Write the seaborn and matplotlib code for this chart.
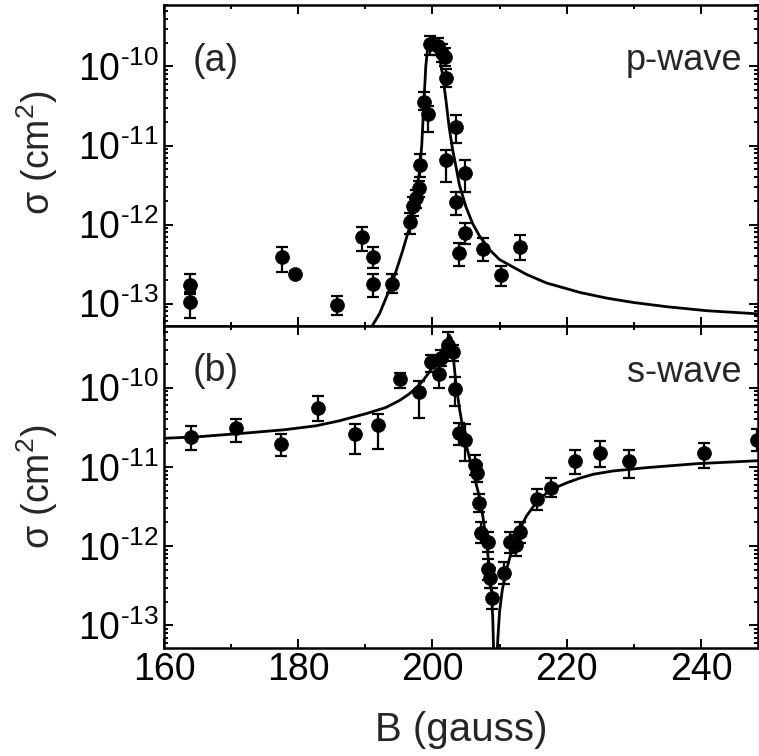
import numpy as np
import pandas as pd
import matplotlib
matplotlib.use('Agg')
import matplotlib.pyplot as plt
import seaborn as sns
from matplotlib.ticker import LogLocator, MultipleLocator, NullFormatter

# ---------------- data ----------------
# (a) p-wave measurements: B (gauss), sigma (cm^2), lower / upper error-bar ends
p_B = [163.9, 163.9, 177.6, 179.5, 185.8, 189.45, 191.2, 191.2, 193.9, 196.6,
       197.1, 197.6, 197.95, 198.1, 198.8, 199.3, 199.6, 200.8, 201.4, 201.8,
       202.0, 203.5, 202.0, 204.9, 203.5, 204.8, 204.0, 207.5, 210.2, 213.0]
p_sig = [1.70e-13, 1.05e-13, 3.89e-13, 2.40e-13, 9.5e-14, 6.9e-13, 3.9e-13, 1.78e-13, 1.78e-13, 1.07e-12,
         1.70e-12, 2.14e-12, 2.9e-12, 5.75e-12, 3.55e-11, 2.5e-11, 1.9e-10, 1.8e-10, 1.5e-10, 1.3e-10,
         7.2e-11, 1.74e-11, 6.6e-12, 4.5e-12, 1.95e-12, 7.8e-13, 4.3e-13, 4.9e-13, 2.3e-13, 5.25e-13]
p_lo = [1.41e-13, 6.6e-14, 2.51e-13, 2.2e-13, 7.1e-14, 4.6e-13, 2.8e-13, 1.2e-13, 1.35e-13, 7.6e-13,
        1.3e-12, 1.6e-12, 2.2e-12, 4.0e-12, 2.8e-11, 1.5e-11, 1.4e-10, 1.4e-10, 1.15e-10, 1.0e-10,
        5.5e-11, 1.07e-11, 3.5e-12, 2.6e-12, 1.32e-12, 5.6e-13, 2.95e-13, 3.5e-13, 1.66e-13, 3.55e-13]
p_hi = [2.34e-13, 1.32e-13, 5.25e-13, 2.6e-13, 1.26e-13, 9.3e-13, 5.25e-13, 2.4e-13, 2.4e-13, 1.41e-12,
        2.2e-12, 2.7e-12, 3.6e-12, 7.9e-12, 4.7e-11, 3.2e-11, 2.4e-10, 2.3e-10, 1.9e-10, 1.7e-10,
        9.3e-11, 2.45e-11, 8.9e-12, 6.6e-12, 2.6e-12, 1.05e-12, 5.9e-13, 6.8e-13, 3.0e-13, 7.4e-13]

# (a) p-wave fit curve
pfit_B = [190.3, 191.0, 192.1, 194.0, 195.5, 196.6, 197.0, 197.6, 198.1, 198.4,
          198.7, 199.0, 199.3, 199.6, 200.0, 200.5, 201.0, 201.5, 202.0, 202.5,
          203.0, 203.5, 204.0, 205.0, 206.0, 207.0, 208.5, 210.0, 212.0, 214.0,
          217.0, 222.0, 226.0, 230.0, 235.0, 241.0, 248.6]
pfit_sig = [4.0e-14, 5.2e-14, 7.4e-14, 1.82e-13, 4.5e-13, 9.3e-13, 1.41e-12, 2.5e-12, 5.0e-12, 1.0e-11,
            3.2e-11, 1.0e-10, 1.78e-10, 2.24e-10, 2.4e-10, 2.1e-10, 1.41e-10, 7.9e-11, 3.8e-11, 1.66e-11,
            8.9e-12, 5.4e-12, 3.2e-12, 1.66e-12, 1.02e-12, 7.2e-13, 4.8e-13, 3.6e-13, 2.9e-13, 2.34e-13,
            1.82e-13, 1.38e-13, 1.17e-13, 1.03e-13, 9.1e-14, 8.1e-14, 7.4e-14]

# (b) s-wave measurements
s_B = [164.0, 170.7, 177.5, 183.0, 188.5, 191.9, 195.2, 198.0, 199.8, 201.0,
       201.3, 202.3, 203.0, 203.4, 204.0, 204.8, 206.3, 206.6, 206.9, 207.3,
       208.3, 208.3, 208.6, 208.8, 210.6, 211.5, 212.5, 213.0, 215.6, 217.6,
       221.2, 224.9, 229.3, 240.5, 248.3]
s_sig = [2.4e-11, 3.1e-11, 1.95e-11, 5.6e-11, 2.57e-11, 3.4e-11, 1.29e-10, 8.7e-11, 2.1e-10, 1.5e-10,
         2.4e-10, 3.5e-10, 2.8e-10, 9.5e-11, 2.7e-11, 2.2e-11, 1.07e-11, 8.5e-12, 3.55e-12, 1.48e-12,
         1.12e-12, 5.1e-13, 4.0e-13, 2.24e-13, 4.6e-13, 1.12e-12, 1.05e-12, 1.5e-12, 3.9e-12, 5.5e-12,
         1.2e-11, 1.5e-11, 1.2e-11, 1.5e-11, 2.2e-11]
s_lo = [1.62e-11, 2.04e-11, 1.38e-11, 3.8e-11, 1.45e-11, 1.7e-11, 1.0e-10, 4.2e-11, 1.6e-10, 1.0e-10,
        1.9e-10, 2.8e-10, 2.2e-10, 5.9e-11, 1.9e-11, 1.2e-11, 8.0e-12, 6.5e-12, 2.7e-12, 1.1e-12,
        8.5e-13, 3.8e-13, 3.0e-13, 1.6e-13, 3.3e-13, 8.3e-13, 7.5e-13, 1.1e-12, 2.9e-12, 4.2e-12,
        8.1e-12, 1.0e-11, 7.2e-12, 9.8e-12, 1.6e-11]
s_hi = [3.24e-11, 4.0e-11, 2.57e-11, 7.8e-11, 3.47e-11, 4.7e-11, 1.55e-10, 1.23e-10, 2.6e-10, 1.9e-10,
        3.0e-10, 5.1e-10, 3.5e-10, 1.35e-10, 3.6e-11, 3.5e-11, 1.4e-11, 1.1e-11, 4.6e-12, 2.0e-12,
        1.5e-12, 6.8e-13, 5.3e-13, 3.0e-13, 6.3e-13, 1.5e-12, 1.4e-12, 2.0e-12, 5.2e-12, 7.2e-12,
        1.66e-11, 2.1e-11, 1.66e-11, 2.0e-11, 3.0e-11]

# (b) s-wave fit curve
sfit_B = [160.0, 165.0, 172.7, 178.0, 182.6, 186.0, 190.1, 193.0, 195.1, 196.5,
          197.6, 198.5, 199.3, 200.0, 201.0, 202.0, 202.5, 202.8, 203.0, 203.5,
          204.0, 204.8, 205.5, 206.3, 207.0, 207.5, 208.0, 208.5, 208.8, 209.0,
          209.15, 209.35, 209.55, 209.75, 210.0, 210.4, 211.0, 212.0, 213.0, 214.0,
          215.5, 217.0, 218.4, 220.0, 221.9, 224.0, 226.9, 231.9, 239.4, 248.6]
sfit_sig = [2.3e-11, 2.4e-11, 2.7e-11, 2.95e-11, 3.3e-11, 3.8e-11, 4.7e-11, 5.6e-11, 6.9e-11, 8.3e-11,
            1.0e-10, 1.2e-10, 1.48e-10, 1.82e-10, 2.5e-10, 3.8e-10, 4.6e-10, 4.2e-10, 3.0e-10, 1.12e-10,
            5.6e-11, 2.24e-11, 1.32e-11, 7.1e-12, 4.2e-12, 2.4e-12, 1.2e-12, 5.2e-13, 2.6e-13, 1.12e-13,
            3.2e-14, 1.0e-15, 3.2e-14, 7.1e-14, 1.5e-13, 2.8e-13, 5.0e-13, 1.0e-12, 1.62e-12, 2.4e-12,
            3.6e-12, 4.7e-12, 5.5e-12, 6.3e-12, 7.2e-12, 8.1e-12, 8.9e-12, 9.8e-12, 1.1e-11, 1.2e-11]

x_ticks = [160, 180, 200, 220, 240]
y_ticks = [1e-13, 1e-12, 1e-11, 1e-10]
y_ticklabels = [r'$10^{\text{-}13}$', r'$10^{\text{-}12}$', r'$10^{\text{-}11}$', r'$10^{\text{-}10}$']

# ---------------- style ----------------
sns.set_theme(style='ticks')
plt.rcParams['font.family'] = ['Liberation Sans', 'DejaVu Sans']
plt.rcParams['mathtext.fontset'] = 'custom'
plt.rcParams['mathtext.rm'] = 'Liberation Sans'
plt.rcParams['mathtext.it'] = 'Liberation Sans:italic'
plt.rcParams['mathtext.bf'] = 'Liberation Sans:bold'
plt.rcParams['mathtext.sf'] = 'Liberation Sans'
plt.rcParams['mathtext.default'] = 'regular'

FS = 27

fig = plt.figure(figsize=(7.59, 7.56), dpi=100)
L = 164 / 759
R = 758 / 759
ax1 = fig.add_axes([L, 1 - 326 / 756, R - L, (326 - 5) / 756])
ax2 = fig.add_axes([L, 1 - 648 / 756, R - L, (648 - 326) / 756], sharex=ax1)


def panel(ax, B, sig, lo, hi, fB, fsig):
    ax.set_yscale('log')
    sig = np.asarray(sig)
    yerr = [sig - np.asarray(lo), np.asarray(hi) - sig]
    ax.errorbar(B, sig, yerr=yerr, fmt='none', ecolor='black',
                elinewidth=1.6, capsize=4.5, capthick=1.6, zorder=2)
    sns.lineplot(data=pd.DataFrame({'B': fB, 'sigma': fsig}), x='B', y='sigma',
                 ax=ax, color='black', lw=2.0, sort=False, estimator=None, zorder=3)
    sns.scatterplot(data=pd.DataFrame({'B': B, 'sigma': sig}), x='B', y='sigma',
                    ax=ax, color='black', edgecolor='black', s=100, marker='o',
                    linewidth=0.5, zorder=4)
    ax.set_ylim(5.2e-14, 6.0e-10)
    ax.set_xlim(160, 248.5)
    ax.set_yticks(y_ticks)
    ax.set_yticklabels(y_ticklabels)
    ax.yaxis.set_minor_locator(LogLocator(base=10, subs=np.arange(2, 10), numticks=20))
    ax.yaxis.set_minor_formatter(NullFormatter())
    ax.set_xticks(x_ticks)
    ax.xaxis.set_minor_locator(MultipleLocator(10))
    ax.tick_params(which='both', direction='in', top=True, right=True,
                   width=1.4, color='black', labelsize=FS, labelcolor='black')
    ax.tick_params(which='major', length=6.5)
    ax.tick_params(which='minor', length=3.2)
    ax.tick_params(axis='y', pad=4)
    ax.tick_params(axis='x', pad=3)
    for s in ax.spines.values():
        s.set_linewidth(1.8)
        s.set_color('black')
    ax.set_ylabel(r'σ (cm$^2$)', fontsize=FS)
    ax.set_xlabel('')


panel(ax1, p_B, p_sig, p_lo, p_hi, pfit_B, pfit_sig)
panel(ax2, s_B, s_sig, s_lo, s_hi, sfit_B, sfit_sig)

ax1.tick_params(axis='x', labelbottom=False)
ax1.yaxis.set_label_coords(-0.175, 0.54)
ax2.yaxis.set_label_coords(-0.175, 0.50)
ax2.set_xlabel('B (gauss)', fontsize=FS + 2)
ax2.xaxis.set_label_coords(0.5, -0.195)

ax1.text(0.049, 0.827, '(a)', transform=ax1.transAxes, fontsize=FS,
         ha='left', va='center')
ax1.text(0.973, 0.797, 'p-wave', transform=ax1.transAxes, fontsize=FS - 1,
         ha='right', va='baseline')
ax2.text(0.049, 0.86, '(b)', transform=ax2.transAxes, fontsize=FS,
         ha='left', va='center')
ax2.text(0.973, 0.826, 's-wave', transform=ax2.transAxes, fontsize=FS - 1,
         ha='right', va='baseline')

fig.savefig('out.png', dpi=100, facecolor='white')
